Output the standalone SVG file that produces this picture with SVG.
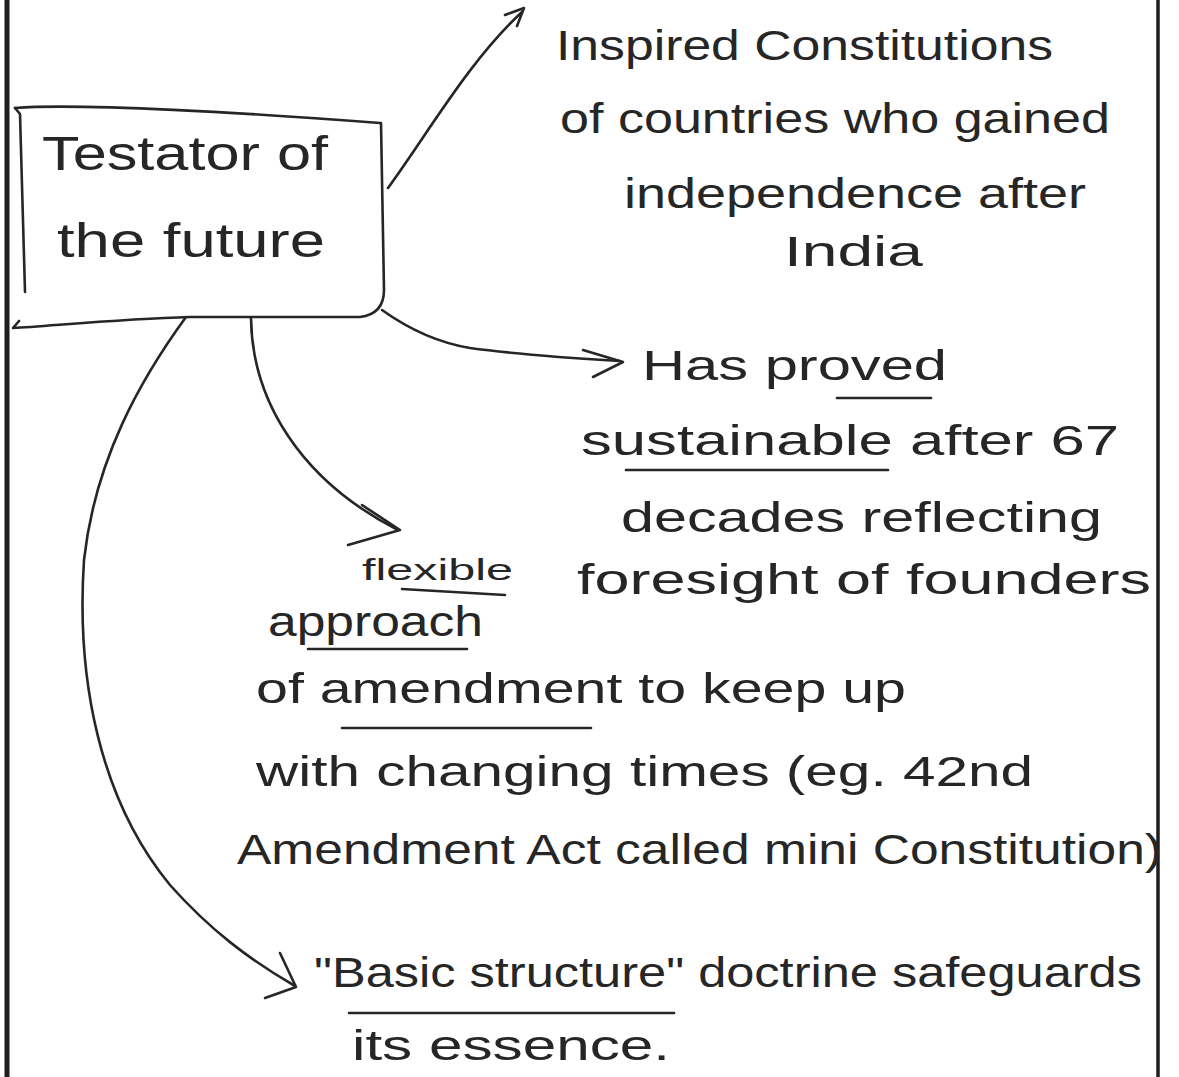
<svg xmlns="http://www.w3.org/2000/svg" width="1179" height="1077" viewBox="0 0 1179 1077">
<style>
.ink{fill:none;stroke:#262626;stroke-width:2.6;stroke-linecap:round;stroke-linejoin:round}
.t{font-family:"Liberation Sans","DejaVu Sans",sans-serif;fill:#262626;font-size:42px}
.big{font-size:48px}
.small{font-size:30px}
.border{stroke:#1e1e1e;fill:none}
</style>
<rect width="1179" height="1077" fill="#ffffff"/>
<g id="page">
<line class="border" x1="7" y1="0" x2="7" y2="1077" stroke-width="5"/>
<line class="border" x1="1158" y1="0" x2="1158" y2="1077" stroke-width="3.5"/>
</g>
<g id="connectors">
<path class="ink" d="M388,188 C430,130 470,60 522,12"/>
<path class="ink" d="M505,15 L524,8 L517,26"/>
<path class="ink" d="M382,310 C410,330 440,343 470,348 C520,355 570,358 620,361"/>
<path class="ink" d="M583,350 L623,362 L593,377"/>
<path class="ink" d="M251,318 C252,400 300,480 398,530"/>
<path class="ink" d="M362,505 L400,530 L348,545"/>
<path class="ink" d="M186,317 C140,380 95,460 84,560 C76,680 100,800 170,885 C210,930 250,960 295,986"/>
<path class="ink" d="M280,953 L296,987 L265,998"/>
</g>
<g id="node-testator">
<path class="ink" d="M15,108 C80,103 250,113 380,123"/>
<path class="ink" d="M381,123 L384,290 Q384,314 360,317 L190,317 C120,319 50,326 13,328 L19,321"/>
<path class="ink" d="M15,108 L20,114 L25,292"/>
<text class="t big" x="42" y="170" textLength="286" lengthAdjust="spacingAndGlyphs">Testator of</text>
<text class="t big" x="57" y="257" textLength="268" lengthAdjust="spacingAndGlyphs">the future</text>
</g>
<g id="node-inspired">
<text class="t" x="556" y="60" textLength="497" lengthAdjust="spacingAndGlyphs">Inspired Constitutions</text>
<text class="t" x="560" y="133" textLength="550" lengthAdjust="spacingAndGlyphs">of countries who gained</text>
<text class="t" x="624" y="208" textLength="462" lengthAdjust="spacingAndGlyphs">independence after</text>
<text class="t" x="784" y="266" textLength="139" lengthAdjust="spacingAndGlyphs">India</text>
</g>
<g id="node-sustainable">
<text class="t" x="642" y="380" textLength="305" lengthAdjust="spacingAndGlyphs">Has proved</text>
<line class="ink" x1="837" y1="398" x2="931" y2="398"/>
<text class="t" x="581" y="455" textLength="538" lengthAdjust="spacingAndGlyphs">sustainable after 67</text>
<line class="ink" x1="626" y1="470" x2="888" y2="470"/>
<text class="t" x="621" y="532" textLength="481" lengthAdjust="spacingAndGlyphs">decades reflecting</text>
<text class="t" x="577" y="594" textLength="574" lengthAdjust="spacingAndGlyphs">foresight of founders</text>
</g>
<g id="node-flexible">
<text class="t small" x="362" y="580" textLength="151" lengthAdjust="spacingAndGlyphs">flexible</text>
<line class="ink" x1="402" y1="589" x2="505" y2="595"/>
<text class="t" x="268" y="636" textLength="215" lengthAdjust="spacingAndGlyphs">approach</text>
<line class="ink" x1="308" y1="649" x2="467" y2="649"/>
<text class="t" x="256" y="703" textLength="650" lengthAdjust="spacingAndGlyphs">of amendment to keep up</text>
<line class="ink" x1="342" y1="728" x2="591" y2="728"/>
<text class="t" x="256" y="786" textLength="777" lengthAdjust="spacingAndGlyphs">with changing times (eg. 42nd</text>
<text class="t" x="237" y="864" textLength="925" lengthAdjust="spacingAndGlyphs">Amendment Act called mini Constitution)</text>
</g>
<g id="node-basic">
<text class="t" x="314" y="987" textLength="828" lengthAdjust="spacingAndGlyphs">"Basic structure" doctrine safeguards</text>
<line class="ink" x1="349" y1="1013" x2="674" y2="1013"/>
<text class="t" x="352" y="1060" textLength="318" lengthAdjust="spacingAndGlyphs">its essence.</text>
</g>
</svg>
